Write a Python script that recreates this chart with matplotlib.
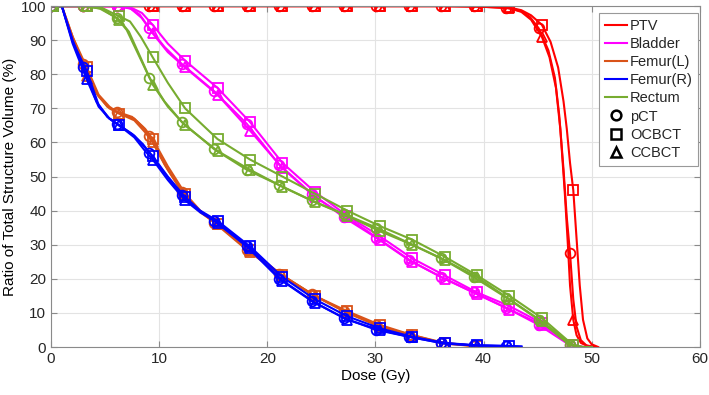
import matplotlib.pyplot as plt
from matplotlib.lines import Line2D

plt.rcParams["font.family"] = ["Liberation Sans", "DejaVu Sans"]
plt.rcParams["font.size"] = 11
plt.rcParams["text.color"] = "#262626"

# dose values where the markers sit (pCT and CBCT grids are slightly shifted)
pct_marks = [0.0, 3.0, 6.1, 9.1, 12.1, 15.1, 18.1, 21.1, 24.1, 27.1, 30.1, 33.1, 36.1, 39.1, 42.1, 45.1, 48.0]
cbct_marks = [0.2, 3.3, 6.3, 9.4, 12.4, 15.4, 18.4, 21.4, 24.4, 27.4, 30.4, 33.4, 36.4, 39.4, 42.4, 45.4, 48.3]

# volume (%) at the marker doses
ptv_pct = [100, 100, 100, 100, 100, 100, 100, 100, 100, 100, 100, 100, 100, 99.9, 99.5, 93.5, 27.5]
ptv_ocbct = [100, 100, 100, 100, 100, 100, 100, 100, 100, 100, 100, 100, 100, 99.9, 99.6, 94.5, 46]
ptv_ccbct = [100, 100, 100, 100, 100, 100, 100, 100, 100, 100, 100, 100, 100, 99.9, 99.4, 91, 8]

bladder_pct = [100, 100, 100, 93.5, 83, 75, 65.5, 53.5, 45, 38, 32, 25.5, 20.5, 16, 11.5, 6.5, 0.5]
bladder_ocbct = [100, 100, 100, 94.5, 84, 76, 66, 54, 45.5, 38.5, 32.5, 26, 21, 16, 12, 7, 0.5]
bladder_ccbct = [100, 100, 100, 92, 82, 74, 63.5, 52.5, 44, 38, 31.5, 25, 20, 15.5, 11, 6.5, 0.5]

femur_l_pct = [100, 83, 69, 62, 45.5, 36.5, 28.5, 21.5, 15.5, 10.5, 6.5, 3.5, 1.2, 0.3]
femur_l_ocbct = [100, 82, 68.5, 61, 45, 36, 28.5, 21, 15, 10.5, 6.5, 3.5, 1.2, 0.3]
femur_l_ccbct = [100, 79.5, 68.5, 60, 44.5, 36, 28, 21, 15, 10, 6, 3.5, 1.0, 0.2]

femur_r_pct = [100, 82, 65.5, 57, 44.5, 37, 29.5, 20, 13.5, 8.5, 5, 3, 1.2, 0.5, 0.3]
femur_r_ocbct = [100, 81, 65, 56, 44, 37, 29.5, 20.5, 14, 9, 5.5, 3, 1.2, 0.5, 0.3]
femur_r_ccbct = [100, 78.5, 65, 55, 43, 36.5, 29, 19.5, 13, 8, 5, 2.8, 1.0, 0.4, 0.2]

rectum_pct = [100, 100, 96.5, 79, 66, 58, 52, 47.5, 43, 39, 35, 30.5, 26, 20.5, 14.5, 8, 0.5]
rectum_ocbct = [100, 100, 97, 85, 70, 61, 55, 50, 45, 40, 35.5, 31.5, 26.5, 21, 15, 8.5, 0.5]
rectum_ccbct = [100, 100, 96, 77, 65, 57.5, 52, 47, 42.5, 38.5, 34, 30, 25.5, 20.5, 14, 7.5, 0.5]

# extra points read between the markers (curve shape)
ptv_pct_extra = [(43.5, 98.5), (44.3, 96.8), (46.0, 87), (46.6, 79), (47.0, 68), (47.4, 52),
                 (47.7, 38), (48.3, 14), (48.6, 6), (49.0, 2), (49.5, 0.5), (50.3, 0)]
ptv_ocbct_extra = [(43.5, 98.8), (44.4, 97.3), (46.2, 89.5), (46.9, 82), (47.4, 72), (47.7, 64),
                   (48.0, 54), (48.6, 32), (48.9, 18), (49.2, 8), (49.6, 2.5), (50.0, 0.8), (50.6, 0)]
ptv_ccbct_extra = [(43.5, 98.3), (44.4, 96), (46.1, 85), (46.7, 76), (47.1, 64), (47.5, 46),
                   (47.8, 30), (48.0, 18), (48.6, 3.5), (49.0, 1.2), (49.6, 0.3), (50.3, 0)]

bladder_pct_extra = [(7.3, 99.4), (8.2, 97.5), (10.5, 88), (49.0, 0), (50.0, 0)]
bladder_ocbct_extra = [(7.5, 99.4), (8.4, 98), (10.8, 89), (49.2, 0), (50.0, 0)]
bladder_ccbct_extra = [(7.4, 99.2), (8.4, 96.5), (10.8, 86.5), (49.2, 0), (50.0, 0)]

femur_l_pct_extra = [(1.0, 100), (2.0, 91), (4.2, 74.5), (5.2, 70.5), (7.5, 67.5), (8.5, 64.5),
                     (10.5, 53.5), (13.5, 40.5), (40.0, 0)]
femur_l_ocbct_extra = [(1.0, 100), (2.0, 91), (4.4, 74), (5.4, 70.5), (7.7, 67), (8.7, 64),
                       (10.8, 53), (13.8, 40), (40.2, 0)]
femur_l_ccbct_extra = [(1.0, 100), (2.0, 90), (4.4, 73.5), (5.4, 70), (7.7, 66.5), (8.7, 63),
                       (10.8, 52), (13.8, 39.5), (40.2, 0)]

femur_r_pct_extra = [(1.0, 100), (2.0, 90), (4.2, 72), (5.2, 67.5), (7.5, 62.5), (8.5, 59.5),
                     (10.5, 51), (13.5, 40.5), (43.5, 0.1)]
femur_r_ocbct_extra = [(1.0, 100), (2.0, 89.5), (4.4, 71), (5.4, 67), (7.7, 62), (8.7, 58.5),
                       (10.8, 50), (13.8, 40), (43.5, 0.1)]
femur_r_ccbct_extra = [(1.0, 100), (2.0, 89), (4.4, 70.5), (5.4, 67), (7.7, 61.5), (8.7, 57.5),
                       (10.8, 49), (13.8, 39.5), (43.5, 0.1)]

rectum_pct_extra = [(4.5, 99.3), (7.0, 93), (10.5, 72), (49.0, 0), (50.0, 0)]
rectum_ocbct_extra = [(4.7, 99.5), (7.3, 95.5), (8.3, 91), (10.8, 77.5), (49.2, 0), (50.0, 0)]
rectum_ccbct_extra = [(4.7, 99.2), (7.2, 92.5), (10.8, 70.5), (49.2, 0), (50.0, 0)]

structures = ["PTV", "Bladder", "Femur(L)", "Femur(R)", "Rectum"]
colors = ["#FF0000", "#FF00FF", "#D95319", "#0000FF", "#77AC30"]
images = ["pCT", "OCBCT", "CCBCT"]
markers = ["o", "s", "^"]

series = [
    [(ptv_pct, ptv_pct_extra), (ptv_ocbct, ptv_ocbct_extra), (ptv_ccbct, ptv_ccbct_extra)],
    [(bladder_pct, bladder_pct_extra), (bladder_ocbct, bladder_ocbct_extra), (bladder_ccbct, bladder_ccbct_extra)],
    [(femur_l_pct, femur_l_pct_extra), (femur_l_ocbct, femur_l_ocbct_extra), (femur_l_ccbct, femur_l_ccbct_extra)],
    [(femur_r_pct, femur_r_pct_extra), (femur_r_ocbct, femur_r_ocbct_extra), (femur_r_ccbct, femur_r_ccbct_extra)],
    [(rectum_pct, rectum_pct_extra), (rectum_ocbct, rectum_ocbct_extra), (rectum_ccbct, rectum_ccbct_extra)],
]

fig = plt.figure(figsize=(7.09, 3.95), dpi=100)
ax = fig.add_axes([0.072, 0.1215, 0.915, 0.863])

for color, rows in zip(colors, series):
    for j, (vals, extra) in enumerate(rows):
        grid = pct_marks if j == 0 else cbct_marks
        md = grid[:len(vals)]
        pts = sorted(list(zip(md, vals)) + extra)
        ax.plot([p[0] for p in pts], [p[1] for p in pts], color=color, lw=1.5, zorder=2)
        ax.plot(md, vals, ls="none", marker=markers[j], ms=7, mfc="none",
                mec=color, mew=1.3, zorder=2)

ax.set_xlim(0, 60)
ax.set_ylim(0, 100)
ax.set_xticks(range(0, 61, 10))
ax.set_yticks(range(0, 101, 10))
ax.grid(True, color="#e3e3e3", lw=0.8)
ax.set_axisbelow(True)
for s in ax.spines.values():
    s.set_color("#8a8a8a")
    s.set_linewidth(0.8)
ax.tick_params(direction="in", length=4, top=True, right=True, color="#8a8a8a",
               labelsize=11, labelcolor="#262626")
ax.set_xlabel("Dose (Gy)", fontsize=11, labelpad=2)
ax.set_ylabel("Ratio of Total Structure Volume (%)", fontsize=11, labelpad=3)

handles = [Line2D([], [], color=c, lw=1.5) for c in colors]
handles += [Line2D([], [], ls="none", marker=m, ms=7, mfc="none", mec="black", mew=1.8)
            for m in markers]
leg = ax.legend(handles, structures + images, loc="upper right", bbox_to_anchor=(0.998, 0.979),
                borderaxespad=0, fontsize=10.5, handlelength=1.5, handletextpad=0.2,
                labelspacing=0.28, borderpad=0.4, fancybox=False, framealpha=1)
leg.get_frame().set_edgecolor("#999999")
leg.get_frame().set_linewidth(0.8)

fig.savefig("out.png", dpi=100)
